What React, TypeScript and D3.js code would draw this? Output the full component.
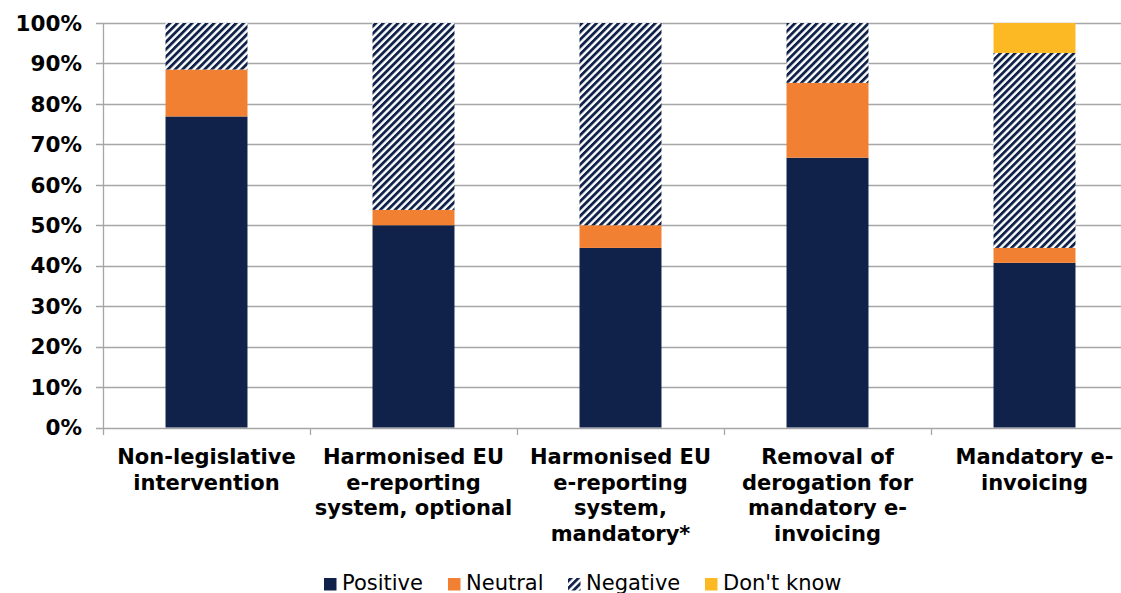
import React from "react";
import * as d3 from "d3";

const categories: string[][] = [
  ["Non-legislative", "intervention"],
  ["Harmonised EU", "e-reporting", "system, optional"],
  ["Harmonised EU", "e-reporting", "system,", "mandatory*"],
  ["Removal of", "derogation for", "mandatory e-", "invoicing"],
  ["Mandatory e-", "invoicing"],
];

const positive = [76.9, 50.0, 44.4, 66.7, 40.7];
const neutral = [11.6, 3.8, 5.6, 18.5, 3.7];
const negative = [11.5, 46.2, 50.0, 14.8, 48.2];
const dontKnow = [0, 0, 0, 0, 7.4];

const yTicks = [0, 10, 20, 30, 40, 50, 60, 70, 80, 90, 100];

const seriesNames = ["Positive", "Neutral", "Negative", "Don't know"];
const seriesColors = ["#10224A", "#F28033", "url(#hatch)", "#FDB924"];

const W = 1121;
const H = 593;
const FONT = "'DejaVu Sans', Verdana, sans-serif";

export default function App() {
  const x = d3
    .scaleBand<number>()
    .domain(d3.range(categories.length))
    .range([103, 1138])
    .paddingInner(0.604)
    .paddingOuter(0.302);
  const y = d3.scaleLinear().domain([0, 100]).range([427.5, 23]);

  const rows = categories.map((_, i) => ({
    i,
    Positive: positive[i],
    Neutral: neutral[i],
    Negative: negative[i],
    "Don't know": dontKnow[i],
  }));
  const stacked = d3.stack<any>().keys(seriesNames)(rows);

  const step = x.step();
  const x0 = x.range()[0];

  const legendX = [324, 448, 568, 705];

  return (
    <svg
      width={W}
      height={H}
      style={{ position: "absolute", left: 0, top: 0, display: "block" }}
      fontFamily={FONT}
    >
      <defs>
        <pattern
          id="hatch"
          width="5.2"
          height="5.2"
          patternUnits="userSpaceOnUse"
          patternTransform="rotate(45)"
        >
          <rect width="5.2" height="5.2" fill="#ffffff" />
          <rect width="2.8" height="5.2" fill="#10224A" />
        </pattern>
      </defs>
      <rect width={W} height={H} fill="#ffffff" />

      {/* gridlines */}
      {yTicks.map((t) => (
        <line
          key={t}
          x1={96}
          x2={W}
          y1={Math.round(y(t)) + 0.5}
          y2={Math.round(y(t)) + 0.5}
          stroke="#A6A6A6"
          strokeWidth={1.3}
        />
      ))}

      {/* bars */}
      {stacked.map((s, si) =>
        s.map((d, i) =>
          d[1] - d[0] > 0 ? (
            <rect
              key={`${si}-${i}`}
              x={x(i)}
              width={x.bandwidth()}
              y={y(d[1])}
              height={y(d[0]) - y(d[1])}
              fill={seriesColors[si]}
            />
          ) : null
        )
      )}

      {/* y axis */}
      <line x1={103.5} x2={103.5} y1={23} y2={428} stroke="#A6A6A6" strokeWidth={1.3} />
      {yTicks.map((t) => (
        <text
          key={t}
          x={82}
          y={y(t)}
          dy="0.36em"
          textAnchor="end"
          fontWeight="bold"
          fontSize={21.5}
          fill="#000"
        >
          {t}%
        </text>
      ))}

      {/* x axis ticks */}
      {d3.range(categories.length + 1).map((k) => (
        <line
          key={k}
          x1={Math.round(x0 + k * step) + 0.5}
          x2={Math.round(x0 + k * step) + 0.5}
          y1={428}
          y2={435}
          stroke="#A6A6A6"
          strokeWidth={1.3}
        />
      ))}

      {/* category labels */}
      {categories.map((lines, i) => (
        <text
          key={i}
          x={(x(i) as number) + x.bandwidth() / 2}
          y={464}
          textAnchor="middle"
          fontWeight="bold"
          fontSize={21}
          fill="#000"
        >
          {lines.map((l, j) => (
            <tspan key={j} x={(x(i) as number) + x.bandwidth() / 2} y={464 + j * 25.5}>
              {l}
            </tspan>
          ))}
        </text>
      ))}

      {/* legend */}
      {seriesNames.map((n, i) => (
        <g key={n}>
          <rect x={legendX[i]} y={578} width={12.5} height={12.5} fill={seriesColors[i]} />
          <text x={legendX[i] + 18} y={590} fontSize={21} fill="#000">
            {n}
          </text>
        </g>
      ))}
    </svg>
  );
}
